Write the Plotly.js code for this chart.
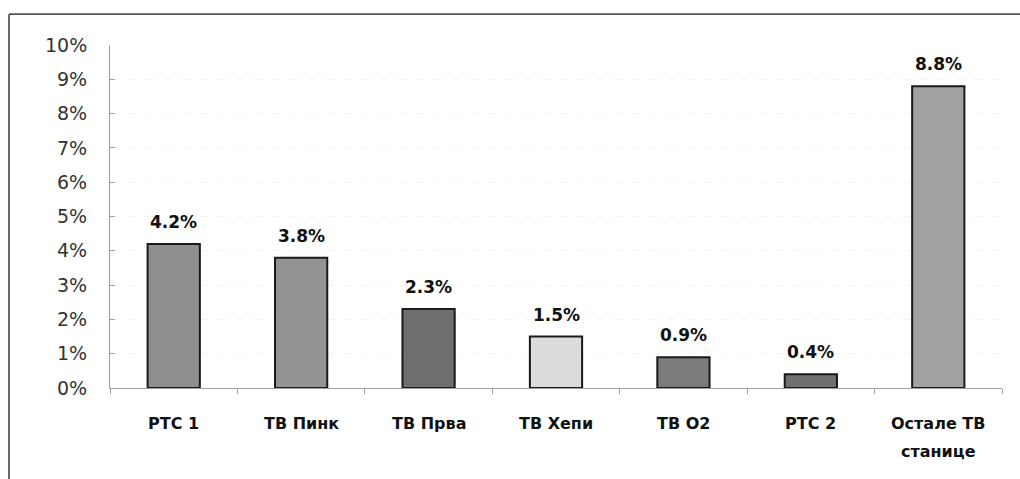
<!DOCTYPE html>
<html>
<head>
<meta charset="utf-8">
<script src="https://cdn.plot.ly/plotly-3.0.1.min.js"></script>
<style>html,body{margin:0;padding:0;background:#fff}#chart{width:1020px;height:479px}</style>
</head>
<body>
<div id="chart"></div>
<script>
const categories = ["РТС 1", "ТВ Пинк", "ТВ Прва", "ТВ Хепи", "ТВ О2", "РТС 2", "Остале ТВ<br>станице"];
const values = [4.2, 3.8, 2.3, 1.5, 0.9, 0.4, 8.8];
const valueLabels = ["4.2%", "3.8%", "2.3%", "1.5%", "0.9%", "0.4%", "8.8%"];
const barColors = ["#8f8f8f", "#939393", "#6f6f6f", "#dcdcdc", "#7b7b7b", "#707070", "#a2a2a2"];
const yTickVals = [0,1,2,3,4,5,6,7,8,9,10];
const yTickText = ["0%","1%","2%","3%","4%","5%","6%","7%","8%","9%","10%"];

const trace = {
  type: "bar",
  x: categories,
  y: values,
  marker: {color: barColors, line: {color: "#1a1a1a", width: 2}},
  width: 0.41,
  hoverinfo: "none"
};

const valueAnnotations = categories.map((c, i) => ({
  x: c, y: values[i], xref: "x", yref: "y",
  text: valueLabels[i], showarrow: false,
  yanchor: "middle", yshift: 22,
  font: {family: "DejaVu Sans", size: 17, color: "#111", weight: "bold"}
}));

const categoryAnnotations = [];
categories.forEach((c) => {
  c.split("<br>").forEach((line, j) => {
    categoryAnnotations.push({
      x: c, y: 0, xref: "x", yref: "paper",
      text: line, showarrow: false,
      yanchor: "middle", yshift: -35 - 28 * j,
      font: {family: "DejaVu Sans", size: 16, color: "#111", weight: "bold"}
    });
  });
});

const layout = {
  width: 1020, height: 479,
  margin: {l: 110, r: 18, t: 45, b: 91},
  paper_bgcolor: "#fff", plot_bgcolor: "#fff",
  showlegend: false,
  xaxis: {
    type: "category",
    showline: true, linecolor: "#a0a0a0", linewidth: 1,
    ticks: "outside", tickson: "boundaries", ticklen: 5, tickcolor: "#a0a0a0",
    showgrid: false, showticklabels: false,
    fixedrange: true
  },
  yaxis: {
    range: [0, 10],
    tickvals: yTickVals, ticktext: yTickText,
    showline: true, linecolor: "#a0a0a0", linewidth: 1,
    ticks: "inside", ticklen: 5, tickcolor: "#a0a0a0",
    showgrid: true, gridcolor: "#f5f5f5", griddash: "dash",
    zeroline: false,
    tickfont: {family: "DejaVu Sans", size: 19, color: "#333"},
    ticklabelstandoff: 18,
    fixedrange: true
  },
  annotations: valueAnnotations.concat(categoryAnnotations),
  shapes: [
    {type: "line", xref: "paper", yref: "paper", x0: -0.1132, x1: -0.1132, y0: 1.09, y1: -0.27, line: {color: "#444", width: 1.6}},
    {type: "line", xref: "paper", yref: "paper", x0: -0.1132, x1: 1.03, y0: 1.09, y1: 1.09, line: {color: "#555", width: 1.6}}
  ]
};

Plotly.newPlot("chart", [trace], layout, {displayModeBar: false, staticPlot: true});
</script>
</body>
</html>
